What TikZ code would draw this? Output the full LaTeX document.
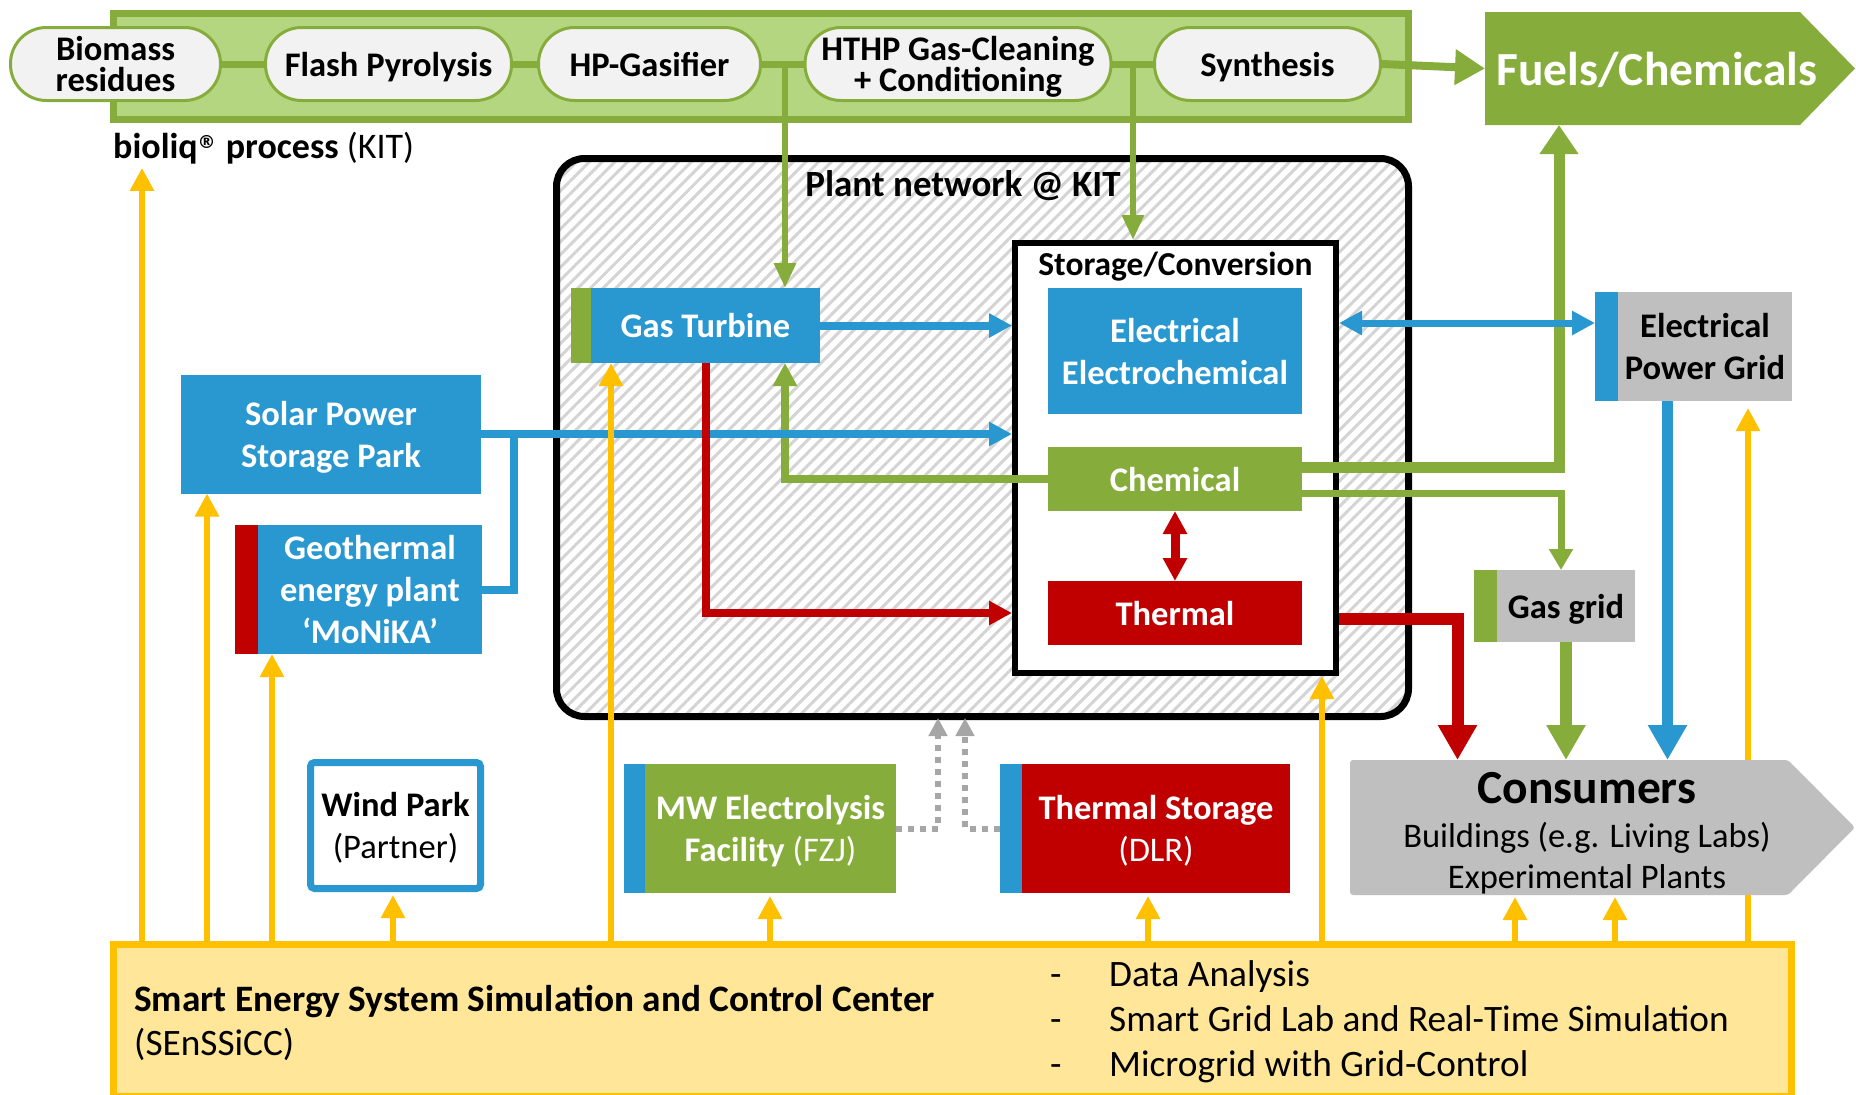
\documentclass[tikz,border=0pt]{standalone}
\usepackage{fontspec}
\setmainfont{Carlito}
\newfontfamily\regfont{DejaVu Sans}
\usetikzlibrary{arrows.meta,patterns.meta}
\definecolor{cgreen}{RGB}{134,173,59}
\definecolor{clgreen}{RGB}{181,214,128}
\definecolor{cblue}{RGB}{41,151,208}
\definecolor{cred}{RGB}{192,0,0}
\definecolor{cgrey}{RGB}{191,191,191}
\definecolor{cpill}{RGB}{242,242,242}
\definecolor{cyel}{RGB}{255,192,0}
\definecolor{clyel}{RGB}{255,230,153}
\definecolor{chatch}{RGB}{212,212,212}
\definecolor{cdots}{RGB}{166,166,166}
\newcommand\fPill{\fontsize{34.5}{31}\selectfont\bfseries}
\newcommand\fBox{\fontsize{34.5}{42}\selectfont\bfseries}
\newcommand\fFuel{\fontsize{47.5}{50}\selectfont\bfseries}
\newcommand\fPlant{\fontsize{37}{40}\selectfont\bfseries}
\newcommand\fStor{\fontsize{33.5}{40}\selectfont\bfseries}
\newcommand\fCons{\fontsize{47.5}{50}\selectfont\bfseries}
\newcommand\fReg{\fontsize{34.5}{40}\selectfont}
\newcommand\fSen{\fontsize{37.3}{44}\selectfont}
\newcommand\fBul{\fontsize{37.3}{45}\selectfont}
\newcommand\fBio{\fontsize{36}{40}\selectfont}
\pgfdeclarelayer{back}
\pgfdeclarelayer{mid}
\pgfsetlayers{back,mid,main}
\begin{document}
\begin{tikzpicture}[x=1pt,y=-1pt,
  pill/.style={draw=cgreen, line width=3pt, fill=cpill, rounded corners=36pt,
    minimum height=73pt, inner sep=0pt, align=center, font=\fPill, text depth=0pt},
  solid box/.style={inner sep=0pt, outer sep=0pt, align=center, text depth=0pt},
  tipS/.style={-{Triangle[width=23pt,length=23pt]}},
  tipL/.style={-{Triangle[width=37pt,length=35pt]}},
  yarrow/.style={draw=cyel, line width=6pt, tipS},
  dotarrow/.style={draw=cdots, line width=6pt, dash pattern=on 6pt off 6pt,
    -{Triangle[width=18pt,length=18pt]}}]
\useasboundingbox (0,0) rectangle (1856,1095);

% ---------- background containers ----------
\begin{pgfonlayer}{back}
\fill[white] (0,0) rectangle (1856,1095);
\node[draw=black, line width=7pt, rounded corners=28pt,
  pattern={Lines[angle=45,distance=9pt,line width=3pt]}, pattern color=chatch,
  minimum width=852pt, minimum height=558pt, inner sep=0pt] (plant) at (982.5,437.5) {};
\node[draw=black, line width=6pt, fill=white, minimum width=321pt,
  minimum height=430pt, inner sep=0pt] (stor) at (1175.5,458) {};
\node[draw=cgreen, fill=clgreen, line width=7pt, minimum width=1295pt,
  minimum height=106pt, inner sep=0pt] (band) at (761,66.5) {};
\end{pgfonlayer}

% ---------- coordinates ----------
\coordinate (xGas) at (785,0);
\coordinate (xSyn) at (1133,0);
\coordinate (xSplit) at (514,0);
\coordinate (xFuel) at (1559,0);
\coordinate (xGG) at (1561,0);
\coordinate (xEPG) at (1667.5,0);
\coordinate (xHeat) at (1457.5,0);
\coordinate (xDotA) at (938,0);
\coordinate (xDotB) at (965,0);
\coordinate (yEl) at (0,323);
\coordinate (yHeat) at (0,619);
\coordinate (ya) at (142,0);
\coordinate (yb) at (207,0);
\coordinate (yc) at (272,0);
\coordinate (yd) at (393,0);
\coordinate (ye) at (611,0);
\coordinate (yf) at (770,0);
\coordinate (yg) at (1148,0);
\coordinate (yh) at (1322,0);
\coordinate (yi) at (1515,0);
\coordinate (yj) at (1615,0);
\coordinate (yk) at (1748,0);

% ---------- titles ----------
\node[font=\fPlant, text depth=0pt] (plantT) at (963,184) {Plant network @ KIT};
\node[font=\fStor, text depth=0pt] (storT) at (1175.5,264) {Storage/Conversion};
\node[anchor=base west, font=\fBio, inner sep=0pt] (bioliq) at (113,158)
  {\textbf{bioliq\raisebox{10pt}{\regfont\fontsize{18}{18}\selectfont ®}\hspace{2pt} process} (KIT)};

% ---------- bioliq pills ----------
\node[pill, minimum width=210pt] (bio) at (115.5,64) {Biomass\\residues};
\node[pill, minimum width=246pt] (fp) at (388.5,64) {Flash Pyrolysis};
\node[pill, minimum width=222pt] (hp) at (649.5,64) {HP-Gasifier};
\node[pill, minimum width=306pt] (hthp) at (958,64) {HTHP Gas-Cleaning\\+ Conditioning};
\node[pill, minimum width=226pt] (syn) at (1267.5,64) {Synthesis};

% ---------- Fuels / Chemicals ----------
\node[solid box, minimum width=315pt, minimum height=113pt] (fuels) at (1642.5,68.5) {};
\fill[cgreen] (fuels.north west) -- (fuels.north east) -- ([xshift=55pt]fuels.east)
  -- (fuels.south east) -- (fuels.south west) -- cycle;
\node[font=\fFuel, text=white, text depth=0pt] (fuelsT) at (1657,68.5) {Fuels/Chemicals};

% ---------- plant boxes ----------
\node[solid box, fill=cblue, text=white, font=\fBox, minimum width=229pt,
  minimum height=75pt] (gt) at (705.5,325.5) {Gas Turbine};
\node[solid box, fill=cgreen, minimum width=20pt, minimum height=75pt,
  anchor=north east] (gtS) at (gt.north west) {};
\node[solid box, fill=cblue, text=white, font=\fBox, minimum width=254pt,
  minimum height=126pt] (elec) at (1175,351) {Electrical\\Electrochemical};
\node[solid box, fill=cgreen, text=white, font=\fBox, minimum width=254pt,
  minimum height=64pt] (chem) at (1175,479) {Chemical};
\node[solid box, fill=cred, text=white, font=\fBox, minimum width=254pt,
  minimum height=64pt] (therm) at (1175,613) {Thermal};

% ---------- left sources ----------
\node[solid box, fill=cblue, text=white, font=\fBox, minimum width=300pt,
  minimum height=119pt] (solar) at (331,434) {Solar Power\\Storage Park};
\node[solid box, fill=cblue, text=white, font=\fBox, minimum width=224pt,
  minimum height=129pt] (geo) at (370,589.5) {Geothermal\\energy plant\\‘MoNiKA’};
\node[solid box, fill=cred, minimum width=23pt, minimum height=129pt,
  anchor=north east] (geoS) at (geo.north west) {};
\node[draw=cblue, line width=7pt, fill=white, rounded corners=4pt, minimum width=170pt,
  minimum height=126pt, inner sep=0pt, align=center, font=\fBox\mdseries, text depth=0pt]
  (wind) at (395.5,825.5) {\textbf{Wind Park}\\(Partner)};

% ---------- bottom facilities ----------
\node[solid box, fill=cgreen, text=white, font=\fBox, minimum width=251pt,
  minimum height=129pt] (mw) at (770.5,828.5) {MW Electrolysis\\Facility \textmd{(FZJ)}};
\node[solid box, fill=cblue, minimum width=21pt, minimum height=129pt,
  anchor=north east] (mwS) at (mw.north west) {};
\node[solid box, fill=cred, text=white, font=\fBox, minimum width=267.5pt,
  minimum height=129pt] (ts) at (1156,828.5) {Thermal Storage\\\textmd{(DLR)}};
\node[solid box, fill=cblue, minimum width=22.5pt, minimum height=129pt,
  anchor=north east] (tsS) at (ts.north west) {};

% ---------- grids ----------
\node[solid box, fill=cgrey, font=\fBox, minimum width=174pt,
  minimum height=109pt] (epg) at (1705,346.5) {Electrical\\Power Grid};
\node[solid box, fill=cblue, minimum width=23pt, minimum height=109pt,
  anchor=north east] (epgS) at (epg.north west) {};
\node[solid box, fill=cgrey, font=\fBox, minimum width=138pt,
  minimum height=72pt] (gg) at (1566,606) {Gas grid};
\node[solid box, fill=cgreen, minimum width=23pt, minimum height=72pt,
  anchor=north east] (ggS) at (gg.north west) {};

% ---------- consumers ----------
\node[solid box, minimum width=438pt, minimum height=135pt] (cons) at (1569,827.5) {};
\fill[cgrey, rounded corners=3pt] (cons.north west) -- (cons.north east)
  -- ([xshift=67pt]cons.east) -- (cons.south east) -- (cons.south west) -- cycle;
\node[anchor=base, font=\fCons] (consT) at (1587,803) {Consumers};
\node[anchor=base, font=\fReg] (consA) at (1587,847) {Buildings (e.g. Living Labs)};
\node[anchor=base, font=\fReg] (consB) at (1587,888) {Experimental Plants};

% ---------- SEnSSiCC ----------
\node[draw=cyel, fill=clyel, line width=7pt, minimum width=1678pt,
  minimum height=152pt, inner sep=0pt] (sen) at (952.5,1020.5) {};
\node[anchor=west, align=left, font=\fSen, inner sep=0pt, text depth=0pt] (senT) at (134,1020)
  {\textbf{Smart Energy System Simulation and Control Center}\\(SEnSSiCC)};
\node[anchor=west, align=left, font=\fBul, inner sep=0pt, text depth=0pt] (senL) at (1050,1019)
  {\makebox[59pt][l]{-}Data Analysis\\
   \makebox[59pt][l]{-}Smart Grid Lab and Real-Time Simulation\\
   \makebox[59pt][l]{-}Microgrid with Grid-Control};

% ---------- connectors ----------
\begin{pgfonlayer}{mid}
% bioliq chain
\draw[cgreen, line width=7pt] (bio.center) -- (syn.center);
\draw[cgreen, line width=8pt, -{Triangle[width=34pt,length=30pt]}] (syn.east) -- (fuels.west);
\draw[cgreen, line width=6pt, -{Triangle[width=21pt,length=25pt]}] (xGas |- bio.center) -- (xGas |- gt.north);
\draw[cgreen, line width=6pt, -{Triangle[width=21pt,length=25pt]}] (xSyn |- bio.center) -- (xSyn |- stor.north);
% chemical
\draw[cgreen, line width=8pt, tipS] (chem.west) -| (xGas |- gt.south);
\draw[cgreen, line width=11pt, -{Triangle[width=37pt,length=29pt]}] ([yshift=11.5pt]chem.east) -| (xFuel |- fuels.south);
\draw[cgreen, line width=7pt, -{Triangle[width=23pt,length=21pt]}] ([yshift=-14.5pt]chem.east) -| (xGG |- gg.north);
\draw[cgreen, line width=12pt, tipL] (gg.south) -- (gg.south |- cons.north);
% electrical
\draw[cblue, line width=8pt, tipS] (gt.east) -- (gt.east -| stor.west);
\draw[cblue, line width=8pt, tipS] (solar.east) -- (solar.east -| stor.west);
\draw[cblue, line width=8pt] (geo.east) -| (xSplit |- solar.east);
\draw[cblue, line width=7pt, {Triangle[width=23pt,length=23pt]}-{Triangle[width=23pt,length=23pt]}]
  (yEl -| stor.east) -- (yEl -| epgS.west);
\draw[cblue, line width=11pt, tipL] (xEPG |- epg.south) -- (xEPG |- cons.north);
% thermal
\draw[cred, line width=8pt, tipS] (gt.south) |- (therm.center -| stor.west);
\draw[cred, line width=9pt, {Triangle[width=23pt,length=23pt]}-{Triangle[width=23pt,length=23pt]}]
  (chem.south) -- (therm.north);
\draw[cred, line width=12pt, tipL] (yHeat -| stor.east) -| (xHeat |- cons.north);
% dotted
\draw[dotarrow] (mw.east) -| (xDotA |- plant.south);
\draw[dotarrow] (tsS.west) -| (xDotB |- plant.south);
% control (yellow)
\draw[yarrow, shorten >=4pt] (ya |- sen.north) -- (ya |- bioliq.south);
\draw[yarrow] (yb |- sen.north) -- (yb |- solar.south);
\draw[yarrow] (yc |- sen.north) -- (yc |- geo.south);
\draw[yarrow, shorten >=3pt] (yd |- sen.north) -- (yd |- wind.south);
\draw[yarrow] (ye |- sen.north) -- (ye |- gt.south);
\draw[yarrow, shorten >=3pt] (yf |- sen.north) -- (yf |- mw.south);
\draw[yarrow, shorten >=3pt] (yg |- sen.north) -- (yg |- ts.south);
\draw[yarrow] (yh |- sen.north) -- (yh |- stor.south);
\draw[yarrow, shorten >=2pt] (yi |- sen.north) -- (yi |- cons.south);
\draw[yarrow, shorten >=2pt] (yj |- sen.north) -- (yj |- cons.south);
\draw[yarrow, shorten >=7pt] (yk |- sen.north) -- (yk |- epg.south);
\end{pgfonlayer}
\end{tikzpicture}
\end{document}
